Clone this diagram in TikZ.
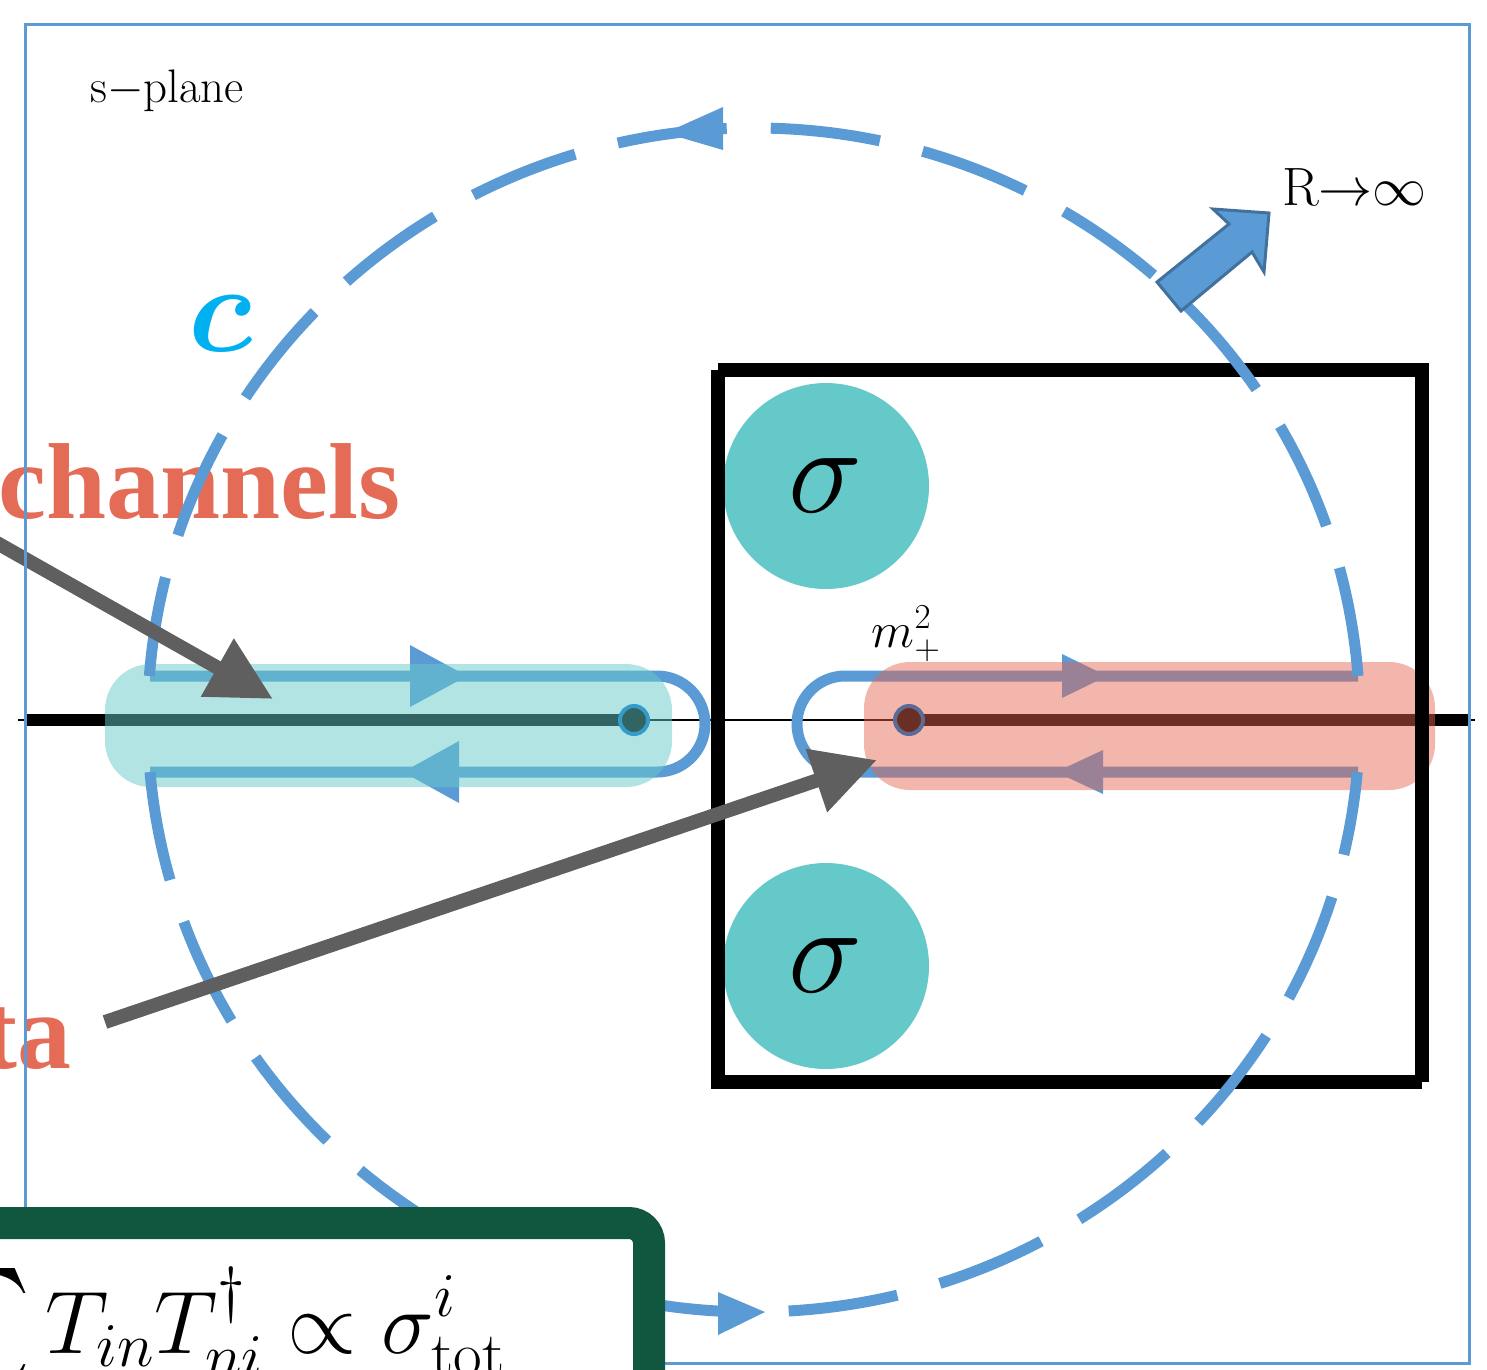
\RequirePackage{fix-cm}
\documentclass[tikz,border=0pt]{standalone}
\usepackage{fontspec}
\usepackage{amsmath}
\usepackage{amssymb}
\usepackage{bm}
\usepackage{xcolor}
\usetikzlibrary{arrows.meta, positioning}
\newfontfamily\labelserif{Liberation Serif}

\definecolor{contourblue}{HTML}{5B9BD5}
\definecolor{poleteal}{HTML}{66C9C9}
\definecolor{bandred}{HTML}{E46450}
\definecolor{tealdark}{HTML}{336464}
\definecolor{tealring}{HTML}{339CC8}
\definecolor{reddark}{HTML}{6B2E25}
\definecolor{redring}{HTML}{5B6B95}
\definecolor{pointergray}{HTML}{5F5F5F}
\definecolor{labelred}{HTML}{E46C56}
\definecolor{cblue}{HTML}{00B0F0}
\definecolor{arrowedge}{HTML}{41719C}
\definecolor{formulagreen}{HTML}{115740}

\tikzset{
  contour/.style={line width=11pt, color=contourblue},
  bigarc/.style={contour, dash pattern=on 110pt off 44pt},
  flowtip/.style={fill=contourblue},
  cutband/.style={rounded corners=46pt},
  pole/.style={circle, fill=poleteal, minimum size=206pt, inner sep=0pt, font=\fontsize{125}{130}\selectfont},
  branchpt/.style={circle, minimum size=28pt, inner sep=0pt, line width=4pt},
  pointer/.style={-{Triangle[length=64pt,width=63pt]}, line width=14pt, color=pointergray},
  regionbox/.style={line width=14pt, line join=miter},
  biglabel/.style={anchor=base east, inner sep=0pt, text=labelred, font=\labelserif\bfseries\fontsize{108}{112}\selectfont},
  formulabox/.style={fill=white, draw=formulagreen, line width=32pt, rounded corners=20pt}
}

\begin{document}
\begin{tikzpicture}[x=1pt, y=-1pt]
  \useasboundingbox (0,0) rectangle (1487,1369);

  % labels cut at the left border
  \node[biglabel] (channels) at (401,518) {channels};
  \node[biglabel] (data) at (72,1068) {ta};

  % real axis with the two cuts
  \draw[line width=2pt] (18,720) -- (1475,720);
  \draw[line width=12pt] (25,720) -- (634,720);
  \draw[line width=12pt] (909,720) -- (1470,720);

  % poles
  \node[pole] (P1) at (826,486) {$\sigma$};
  \node[pole] (P2) at (826,966) {$\sigma$};

  % keyhole parts of the contour
  \draw[contour] (150,676) -- (657,676) arc[start angle=-90, end angle=90, radius=48] -- (150,772);
  \draw[contour] (1358,676) -- (845,676) arc[start angle=-90, end angle=-270, radius=48] -- (1358,772);
  \fill[flowtip] (410,645) -- (467,676) -- (410,707) -- cycle;
  \fill[flowtip] (459,741) -- (403,772) -- (459,803) -- cycle;
  \fill[flowtip] (1062,654) -- (1107,676) -- (1062,698) -- cycle;
  \fill[flowtip] (1103,750) -- (1056,772) -- (1103,794) -- cycle;

  % cut bands
  \fill[cutband, fill=poleteal, opacity=.5] (105,664) rectangle (672,787);
  \fill[cutband, fill=bandred, opacity=.47] (864,662) rectangle (1435,790);

  % region box
  \draw[regionbox] (718,370) -- (1422,370) -- (1422,1082);
  \draw[regionbox] (1422,1082) -- (718,1082) -- (718,370);

  % big circle C
  \draw[bigarc] (1358,676) arc[start angle=-4.26, end angle=-175.74, x radius=606, y radius=592];
  \draw[bigarc] (150,772) arc[start angle=174.96, end angle=5.04, x radius=606, y radius=592];
  \fill[flowtip] (723,107) -- (723,150) -- (665,133) -- cycle;
  \fill[flowtip] (718,1292) -- (718,1335) -- (765,1312) -- cycle;

  % branch points
  \node[branchpt, fill=tealdark, draw=tealring] (B1) at (634,720) {};
  \node[branchpt, fill=reddark, draw=redring] (B2) at (909,720) {};
  \node[font=\fontsize{50}{54}\selectfont, inner sep=0pt] (mthr) at (906,634) {$m_+^2$};

  \node[anchor=base west, inner sep=0pt, font=\fontsize{47}{50}\selectfont] (plane) at (90,102) {s$-$plane};
  \node[text=cblue, font=\fontsize{125}{130}\selectfont, inner sep=0pt] (Clabel) at (221,324) {$\bm{c}$};

  % R to infinity
  \filldraw[fill=contourblue, draw=arrowedge, line width=3pt]
    (1157,282) -- (1229,224) -- (1213,209) -- (1269,213) -- (1264,272) -- (1252,252) -- (1181,311) -- cycle;
  \node[anchor=base west, inner sep=0pt, font=\fontsize{54}{58}\selectfont] (Rlabel) at (1282,205) {R$\rightarrow$$\infty$};

  % pointers
  \coordinate (chTail) at (-10,539);
  \coordinate (chTip) at (273,699);
  \coordinate (taTail) at (105,1022);
  \coordinate (taTip) at (877,760);
  \draw[pointer] (chTail) -- (chTip);
  \draw[pointer] (taTail) -- (taTip);

  % frame
  \draw[contourblue, line width=3pt] (25,24) rectangle (1469,1363);

  % formula box
  \filldraw[formulabox] (-60,1430) -- (-60,1223) -- (649,1223) -- (649,1430) -- cycle;
  \node[anchor=base west, inner sep=0pt, font=\fontsize{89}{94}\selectfont] (formula) at (-98,1353)
    {$\displaystyle\sum_n T_{in}T^{\dagger}_{ni}\propto\sigma^{i}_{\mathrm{tot}}$};
\end{tikzpicture}
\end{document}
